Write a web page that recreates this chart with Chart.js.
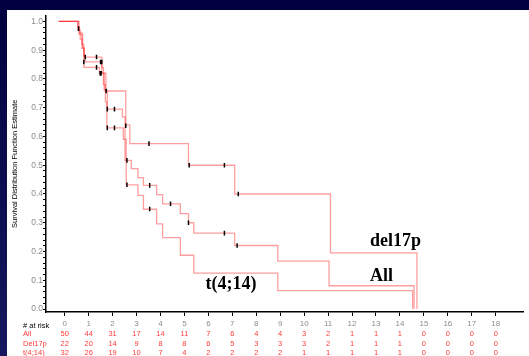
<!DOCTYPE html>
<html>
<head>
<meta charset="utf-8">
<script src="https://cdn.jsdelivr.net/npm/chart.js@4.4.1/dist/chart.umd.min.js"></script>
<style>
  html, body { margin: 0; padding: 0; }
  body { width: 529px; height: 356px; overflow: hidden; position: relative;
         background: linear-gradient(#00003f, #17175f); }
  #panel { position: absolute; left: 7px; top: 10px; width: 522px; height: 346px; background: #fff; }
</style>
</head>
<body>
<div id="panel"><canvas id="km" width="522" height="346"></canvas></div>
<script>
// time axis ticks (years) and numbers at risk
const xTicks = [0, 1, 2, 3, 4, 5, 6, 7, 8, 9, 10, 11, 12, 13, 14, 15, 16, 17, 18];
const riskAll = [50, 44, 31, 17, 14, 11, 7, 6, 4, 4, 3, 2, 1, 1, 1, 0, 0, 0, 0];
const riskDel17p = [22, 20, 14, 9, 8, 8, 6, 5, 3, 3, 3, 2, 1, 1, 1, 0, 0, 0, 0];
const riskT414 = [32, 26, 19, 10, 7, 4, 2, 2, 2, 2, 1, 1, 1, 1, 1, 0, 0, 0, 0];

// Kaplan-Meier steps [time, survival]
const curveDel17p = [[-0.25, 1], [0.6, 0.955], [0.75, 0.909], [0.8, 0.84], [1.45, 0.82], [1.72, 0.758],
  [2.55, 0.64], [2.72, 0.575], [5.17, 0.5], [7.1, 0.4], [11.1, 0.195], [14.71, 0]];
const curveAll = [[-0.25, 1], [0.55, 0.98], [0.62, 0.96], [0.72, 0.92], [0.8, 0.88], [0.85, 0.859],
  [1.55, 0.82], [1.65, 0.76], [1.78, 0.695], [2.41, 0.668], [2.52, 0.517], [2.78, 0.488], [3.06, 0.457],
  [3.29, 0.43], [3.84, 0.398], [4.09, 0.366], [4.83, 0.332], [5.17, 0.3], [5.39, 0.264], [7.1, 0.221],
  [8.9, 0.167], [11.04, 0.081], [14.59, 0]];
const curveT414 = [[-0.25, 1], [0.55, 0.969], [0.65, 0.938], [0.72, 0.906], [0.82, 0.876], [1.55, 0.84],
  [1.62, 0.78], [1.7, 0.72], [1.76, 0.63], [2.45, 0.59], [2.57, 0.432], [3.06, 0.395], [3.29, 0.347],
  [3.84, 0.296], [4.09, 0.248], [4.83, 0.187], [5.39, 0.125], [8.9, 0.064], [14.53, 0]];

// censored observations
const censorDel17p = [[0.58, 0.975], [1.33, 0.84], [1.5, 0.82], [1.73, 0.758], [2.55, 0.637], [3.52, 0.575],
  [5.2, 0.5], [6.67, 0.5], [7.25, 0.4]];
const censorAll = [[0.8, 0.859], [1.5, 0.859], [1.55, 0.859], [1.48, 0.82], [1.78, 0.695], [2.08, 0.695],
  [2.6, 0.517], [3.55, 0.43], [4.42, 0.366], [5.17, 0.3], [6.67, 0.264], [7.2, 0.221]];
const censorT414 = [[0.86, 0.876], [1.33, 0.876], [1.52, 0.82], [1.78, 0.63], [2.08, 0.63], [2.6, 0.432],
  [3.55, 0.348]];

// curve labels [text, time, survival]
const curveLabels = [["del17p", 13.81, 0.22], ["All", 13.23, 0.097], ["t(4;14)", 6.95, 0.071]];

const lineColor = "rgba(255, 0, 0, 0.38)";
const riskColor = "#ff3b3b";

const pts = (arr) => arr.map(([x, y]) => ({ x, y }));

const curve = (data) => ({
  data: pts(data), showLine: true, stepped: true, pointRadius: 0,
  borderColor: lineColor, borderWidth: 1.3, order: 1
});
const censor = (data) => ({
  data: pts(data), showLine: false, pointStyle: "line", rotation: 90, pointRadius: 2.3,
  borderColor: "#000", borderWidth: 1.5, order: 0
});

//Risk table and curve names
const extras = {
  id: "extras",
  afterDraw(chart) {
    const ctx = chart.ctx;
    const xs = chart.scales.x, ys = chart.scales.y;
    const base = xs.top;
    ctx.save();
    ctx.textBaseline = "middle";
    ctx.font = '7.5px "Liberation Sans", Arial, sans-serif';
    ctx.fillStyle = "#000";
    ctx.textAlign = "left";
    ctx.fillText("# at risk", 16, base + 14);
    const rows = [["All", riskAll], ["Del17p", riskDel17p], ["t(4;14)", riskT414]];
    rows.forEach(([name, vals], r) => {
      const y = base + 22 + r * 9.5;
      ctx.fillStyle = riskColor;
      ctx.textAlign = "left";
      ctx.fillText(name, 16, y);
      ctx.textAlign = "center";
      vals.forEach((n, i) => ctx.fillText(String(n), xs.getPixelForValue(xTicks[i]), y));
    });
    ctx.font = 'bold 18px "Liberation Serif", "Times New Roman", serif';
    ctx.fillStyle = "#000";
    ctx.textAlign = "center";
    ctx.textBaseline = "alphabetic";
    curveLabels.forEach(([txt, t, s]) => ctx.fillText(txt, xs.getPixelForValue(t), ys.getPixelForValue(s)));
    ctx.restore();
  }
};

new Chart(document.getElementById("km"), {
  type: "scatter",
  data: {
    datasets: [
      censor(censorDel17p), censor(censorAll), censor(censorT414),
      curve(curveDel17p), curve(curveAll), curve(curveT414)
    ]
  },
  options: {
    responsive: false,
    animation: false,
    layout: { padding: 0 },
    plugins: { legend: { display: false }, tooltip: { enabled: false } },
    scales: {
      x: {
        type: "linear", min: -0.78, max: 19.16,
        afterBuildTicks: (scale) => { scale.ticks = xTicks.map((v) => ({ value: v })); },
        afterFit: (scale) => { scale.height = 44; },
        ticks: {
          autoSkip: false, maxRotation: 0, padding: 3, color: "#8c8c8c",
          font: { family: "Liberation Sans", size: 8 },
          callback: (v) => String(v)
        },
        grid: { drawOnChartArea: false, tickLength: 4, tickColor: "#000", tickWidth: 1 },
        border: { color: "#000", width: 1.5 }
      },
      y: {
        type: "linear", min: -0.0102, max: 1.0205,
        afterBuildTicks: (scale) => {
          const t = [];
          for (let i = 0; i <= 50; i++) t.push({ value: i / 50 });
          t.push({ value: scale.max });
          scale.ticks = t;
        },
        afterFit: (scale) => { scale.width = 39; },
        ticks: {
          autoSkip: false, padding: 0, color: "#8c8c8c",
          font: { family: "Liberation Sans", size: 8.5 },
          callback: (v) => {
            const k = Math.round(v * 50);
            return Math.abs(v * 50 - k) < 1e-6 && k % 5 === 0 ? (k / 50).toFixed(1) : [];
          }
        },
        grid: {
          drawOnChartArea: false, tickLength: 3, tickWidth: 1,
          tickColor: (c) => (c.tick && c.tick.value > 1.001 ? "rgba(0,0,0,0)" : "#000")
        },
        border: { color: "#000", width: 1.5 },
        title: {
          display: true, text: "Survival Distribution Function Estimate", color: "#000",
          font: { family: "Liberation Sans", size: 7.5 }, padding: { top: 3, bottom: 0 }
        }
      }
    }
  },
  plugins: [extras]
});
</script>
</body>
</html>
